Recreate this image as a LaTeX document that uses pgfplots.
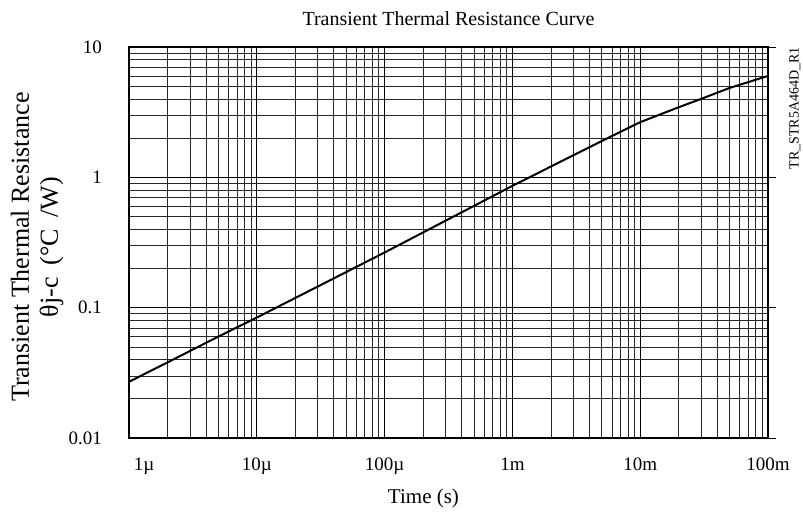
\documentclass[border=0pt]{standalone}
\usepackage{fontspec}
\setmainfont{Liberation Serif}
\usepackage{pgfplots}
\pgfplotsset{compat=1.18}

\begin{document}
\begin{tikzpicture}
\begin{axis}[
    scale only axis,
    width=639pt, height=391pt,
    xmode=log, ymode=log,
    xmin=1e-6, xmax=1e-1,
    ymin=0.01, ymax=10,
    xtick={1e-6,1e-5,1e-4,1e-3,1e-2,1e-1},
    xticklabels={\makebox[0pt][l]{\hspace{5pt}1µ},10µ,100µ,1m,10m,100m},
    ytick={0.01,0.1,1,10},
    yticklabels={0.01,0.1,1,10},
    font=\fontsize{19}{21}\selectfont,
    grid=both,
    major grid style={black, line width=0.6pt},
    minor grid style={black!85, line width=0.6pt},
    axis line style={line width=2pt},
    tick align=outside,
    ytick pos=right, yticklabel pos=left,
    xtick style={draw=none},
    minor tick style={draw=none},
    major tick length=8pt,
    ytick style={black, line width=0.6pt},
    yticklabel style={inner sep=0pt, xshift=-19pt},
    xticklabel style={inner sep=0pt, yshift=-12pt},
    title={Transient Thermal Resistance Curve},
    title style={at={(rel axis cs:0.5,1)}, anchor=base, yshift=16pt, font=\fontsize{20}{22}\selectfont},
    xlabel={Time (s)},
    xlabel style={at={(rel axis cs:0.5,0)}, anchor=base, yshift=-65pt, xshift=-25pt, font=\fontsize{21}{24}\selectfont},
]
\addplot[black, line width=2pt] coordinates {
    (1e-6,0.027) (2e-6,0.038) (5e-6,0.060) (1e-5,0.084) (1e-4,0.265)
    (1e-3,0.86) (2e-3,1.21) (5e-3,1.9) (1e-2,2.65) (2e-2,3.45)
    (3e-2,4.0) (5e-2,4.85) (1e-1,6.0)
};
\end{axis}
\node[rotate=90, align=center, font=\fontsize{26}{29}\selectfont] at (-92pt,191pt)
    {Transient Thermal Resistance\\θj-c\hspace{0.2em} (°C\hspace{0.2em} /W)};
\node[rotate=90, anchor=east, inner sep=0pt, font=\fontsize{14}{16}\selectfont] at (666pt,391pt)
    {TR\_STR5A464D\_R1};
\pgfresetboundingbox
\path[use as bounding box] (-129pt,-77pt) rectangle (674pt,438pt);
\end{tikzpicture}
\end{document}
